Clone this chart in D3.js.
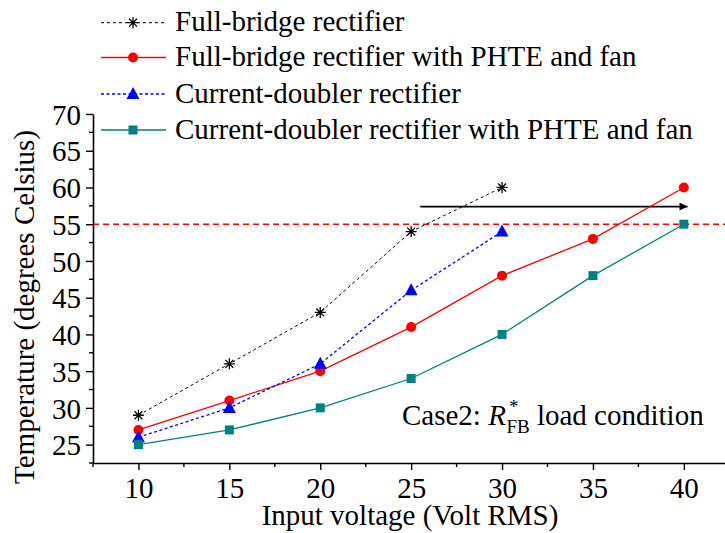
<!DOCTYPE html>
<html>
<head>
<meta charset="utf-8">
<script src="https://cdn.jsdelivr.net/npm/d3@7"></script>
<style>
  body { margin: 0; background: #fff; }
</style>
</head>
<body>
<svg id="chart" width="725" height="533"></svg>
<script>
// Input voltage (V RMS) and measured temperatures (°C)
const voltages = [10, 15, 20, 25, 30, 35, 40];
const fullBridge = [29, 36, 43, 54, 60];
const fullBridgePhte = [27, 31, 35, 41, 48, 53, 60];
const currentDoubler = [26, 30, 36, 46, 54];
const currentDoublerPhte = [25, 27, 30, 34, 40, 48, 55];

const seriesNames = [
  "Full-bridge rectifier",
  "Full-bridge rectifier with PHTE and fan",
  "Current-doubler rectifier",
  "Current-doubler rectifier with PHTE and fan"
];
const xTicks = [10, 15, 20, 25, 30, 35, 40];
const yTicks = [25, 30, 35, 40, 45, 50, 55, 60, 65, 70];
const limitTemp = 55;            // red dashed limit line
const arrowSpan = [25.5, 40.2];  // voltage range of the arrow
const arrowLevel = 57.4;

const FONT = "Liberation Serif, Times New Roman, DejaVu Serif, serif";
const svg = d3.select("#chart").attr("font-family", FONT);
const W = 725, H = 533;
const plotLeft = 93, plotBottom = 463, plotTop = 114;

const x = d3.scaleLinear().domain([7.5, 42.5]).range([plotLeft, plotLeft + 35 * 18.18]);
const y = d3.scaleLinear().domain([22.5, 70]).range([plotBottom, plotTop]);

const series = [
  { name: seriesNames[0], values: fullBridge, color: "#000", dash: "3,3", width: 1, marker: "star" },
  { name: seriesNames[1], values: fullBridgePhte, color: "#ff0000", dash: null, width: 1.3, marker: "circle" },
  { name: seriesNames[2], values: currentDoubler, color: "#0000ff", dash: "3,2.5", width: 1.3, marker: "triangle" },
  { name: seriesNames[3], values: currentDoublerPhte, color: "#008080", dash: null, width: 1.3, marker: "square" }
];

// ---- axes ----
const fontSize = 29;
const yMinor = d3.range(22.5, 70, 5);
const xMinor = d3.range(7.5, 43, 5);

const yAxis = svg.append("g").attr("transform", `translate(${plotLeft},0)`)
  .call(d3.axisLeft(y).tickValues(yTicks).tickSize(7).tickSizeOuter(0).tickPadding(5));
yAxis.attr("font-family", FONT).attr("font-size", fontSize);
yAxis.select(".domain").attr("stroke", "#000").attr("stroke-width", 1.6);
yAxis.selectAll(".tick line").attr("stroke-width", 1.4);
yAxis.selectAll(".tick text").attr("fill", "#000").attr("dy", "0.35em");
yAxis.selectAll(".minor").data(yMinor).enter().append("line")
  .attr("x1", -4).attr("x2", 0).attr("y1", d => y(d)).attr("y2", d => y(d))
  .attr("stroke", "#000").attr("stroke-width", 1.4);

const xAxis = svg.append("g").attr("transform", `translate(0,${plotBottom})`)
  .call(d3.axisBottom(x).tickValues(xTicks).tickSize(7).tickSizeOuter(0).tickPadding(6));
xAxis.attr("font-family", FONT).attr("font-size", fontSize);
xAxis.select(".domain").attr("stroke", "#000").attr("stroke-width", 1.6);
xAxis.selectAll(".tick line").attr("stroke-width", 1.4);
xAxis.selectAll(".tick text").attr("fill", "#000").attr("dy", "0.76em");
xAxis.selectAll(".minor").data(xMinor).enter().append("line")
  .attr("x1", d => x(d)).attr("x2", d => x(d)).attr("y1", 0).attr("y2", 4)
  .attr("stroke", "#000").attr("stroke-width", 1.4);

// axis titles
svg.append("text")
  .attr("transform", "translate(34,307) rotate(-90)")
  .attr("text-anchor", "middle").attr("font-size", fontSize)
  .text("Temperature (degrees Celsius)");
svg.append("text")
  .attr("x", 410).attr("y", 525).attr("text-anchor", "middle").attr("font-size", fontSize)
  .text("Input voltage (Volt RMS)");

// ---- limit line and arrow ----
svg.append("line")
  .attr("x1", plotLeft).attr("x2", W).attr("y1", y(limitTemp)).attr("y2", y(limitTemp))
  .attr("stroke", "#ff0000").attr("stroke-width", 1.5).attr("stroke-dasharray", "6,4");

svg.append("defs").append("marker")
  .attr("id", "arrowhead").attr("viewBox", "0 0 10 10").attr("refX", 10).attr("refY", 5)
  .attr("markerWidth", 7).attr("markerHeight", 5).attr("markerUnits", "strokeWidth").attr("orient", "auto")
  .append("path").attr("d", "M0,0 L10,5 L0,10 z").attr("fill", "#000");
svg.append("line")
  .attr("x1", x(arrowSpan[0])).attr("x2", x(arrowSpan[1]))
  .attr("y1", y(arrowLevel)).attr("y2", y(arrowLevel))
  .attr("stroke", "#000").attr("stroke-width", 1.6).attr("marker-end", "url(#arrowhead)");

// ---- marker drawing ----
function drawMarker(g, type, color) {
  if (type === "star") {
    const r = 5.5;
    const p = d3.path();
    p.moveTo(-r, 0); p.lineTo(r, 0);
    p.moveTo(0, -r); p.lineTo(0, r);
    p.moveTo(-r * 0.72, -r * 0.72); p.lineTo(r * 0.72, r * 0.72);
    p.moveTo(-r * 0.72, r * 0.72); p.lineTo(r * 0.72, -r * 0.72);
    g.append("path").attr("d", p.toString()).attr("stroke", color).attr("stroke-width", 1.3).attr("fill", "none");
  } else if (type === "circle") {
    g.append("circle").attr("r", 5).attr("fill", color);
  } else if (type === "triangle") {
    g.append("path").attr("d", "M0,-7 L6.5,5 L-6.5,5 Z").attr("fill", color);
  } else if (type === "square") {
    g.append("rect").attr("x", -4.5).attr("y", -4.5).attr("width", 9).attr("height", 9).attr("fill", color);
  }
}

// ---- series ----
const line = d3.line().x((d, i) => x(voltages[i])).y(d => y(d));
series.forEach(s => {
  svg.append("path").datum(s.values)
    .attr("d", line).attr("fill", "none")
    .attr("stroke", s.color).attr("stroke-width", s.width)
    .attr("stroke-dasharray", s.dash);
  s.values.forEach((v, i) => {
    const g = svg.append("g").attr("transform", `translate(${x(voltages[i])},${y(v)})`);
    drawMarker(g, s.marker, s.color);
  });
});

// ---- legend ----
const legendY = [22.7, 57.5, 94, 130];
series.forEach((s, i) => {
  const ly = legendY[i];
  svg.append("line").attr("x1", 101).attr("x2", 166).attr("y1", ly).attr("y2", ly)
    .attr("stroke", s.color).attr("stroke-width", s.width).attr("stroke-dasharray", s.dash);
  drawMarker(svg.append("g").attr("transform", `translate(133,${ly})`), s.marker, s.color);
  svg.append("text").attr("x", 175).attr("y", ly + 8.5).attr("font-size", fontSize).text(s.name);
});

// ---- load-condition note ----
const note = svg.append("text").attr("x", 402).attr("y", 425).attr("font-size", fontSize);
note.append("tspan").text("Case2: ");
note.append("tspan").attr("font-style", "italic").text("R");
note.append("tspan").attr("font-size", 19).attr("dx", 3).attr("dy", -12).text("*");
note.append("tspan").attr("font-size", 19).attr("dx", -12).attr("dy", 20).text("FB");
note.append("tspan").attr("dy", -8).text(" load condition");
</script>
</body>
</html>
